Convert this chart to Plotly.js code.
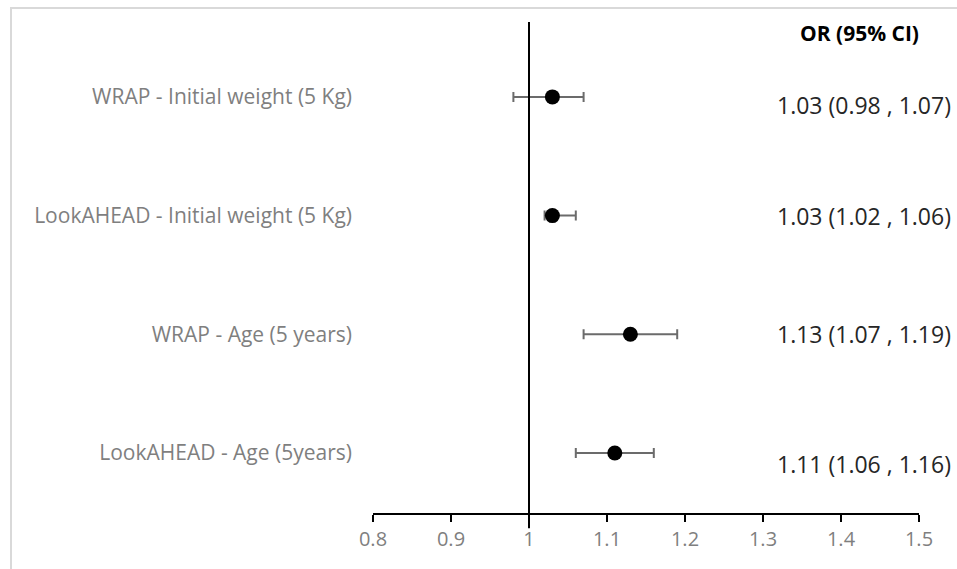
<!DOCTYPE html>
<html>
<head>
<meta charset="utf-8">
<script src="https://cdn.plot.ly/plotly-3.0.1.min.js"></script>
<style>html,body{margin:0;padding:0;background:#fff;}#chart{width:957px;height:569px;}</style>
</head>
<body>
<div id="chart"></div>
<script>
const labels = ["WRAP - Initial weight (5 Kg)", "LookAHEAD - Initial weight (5 Kg)", "WRAP - Age (5 years)", "LookAHEAD - Age (5years)"];
const rowPos = [4, 3, 2, 1];
const orValues = [1.03, 1.03, 1.13, 1.11];
const ciLower = [0.98, 1.02, 1.07, 1.06];
const ciUpper = [1.07, 1.06, 1.19, 1.16];
const ciText = ["1.03 (0.98 , 1.07)", "1.03 (1.02 , 1.06)", "1.13 (1.07 , 1.19)", "1.11 (1.06 , 1.16)"];
const xTicks = [0.8, 0.9, 1, 1.1, 1.2, 1.3, 1.4, 1.5];
const xTickText = ["0.8", "0.9", "1", "1.1", "1.2", "1.3", "1.4", "1.5"];
const headerText = "OR (95% CI)";

const FONT = "'Open Sans', Lato, sans-serif";

const trace = {
  type: "scatter",
  mode: "markers",
  x: orValues,
  y: rowPos,
  marker: {color: "#000", size: 15},
  error_x: {
    type: "data",
    symmetric: false,
    array: orValues.map((v, i) => ciUpper[i] - v),
    arrayminus: orValues.map((v, i) => v - ciLower[i]),
    color: "#6b6b6b",
    thickness: 2,
    width: 5
  },
  hoverinfo: "skip",
  showlegend: false
};

const rowShift = [-8, 0, 0, -11];
const annotations = ciText.map((t, i) => ({
  xref: "paper", yref: "y", x: 1.0622, y: rowPos[i],
  xanchor: "right", yanchor: "middle", yshift: rowShift[i],
  text: t, showarrow: false,
  font: {family: FONT, size: 23, color: "#262626"}
}));
annotations.push({
  xref: "paper", yref: "paper", x: 1.004, y: 1.0,
  xanchor: "right", yanchor: "middle", yshift: -11,
  text: "<b>" + headerText + "</b>", showarrow: false,
  font: {family: FONT, size: 21, color: "#000"}
});

const layout = {
  width: 957, height: 569,
  margin: {l: 373, r: 38, t: 22, b: 56},
  paper_bgcolor: "#fff", plot_bgcolor: "#fff",
  xaxis: {
    range: [0.8, 1.5],
    tickvals: xTicks, ticktext: xTickText,
    showline: true, linecolor: "#000", linewidth: 2,
    ticks: "outside", ticklen: 7, tickwidth: 2, tickcolor: "#000",
    showgrid: false, zeroline: false,
    tickfont: {family: FONT, size: 20, color: "#7f7f7f"}
  },
  yaxis: {
    range: [0.4945, 4.631],
    tickvals: rowPos, ticktext: labels,
    showline: false, showgrid: false, zeroline: false, ticks: "",
    ticklabelstandoff: 20,
    tickfont: {family: FONT, size: 21, color: "#7f7f7f"}
  },
  shapes: [
    {type: "line", xref: "x", yref: "paper", x0: 1, x1: 1, y0: -0.031, y1: 1,
     line: {color: "#000", width: 2}},
    {type: "rect", xref: "paper", yref: "paper",
     x0: (11 - 373) / 546, x1: (965 - 373) / 546,
     y0: (513 - 575) / 491, y1: (513 - 8) / 491,
     line: {color: "#d9d9d9", width: 2}, layer: "below"}
  ],
  annotations: annotations
};

Plotly.newPlot("chart", [trace], layout, {displayModeBar: false, staticPlot: true});
</script>
</body>
</html>
